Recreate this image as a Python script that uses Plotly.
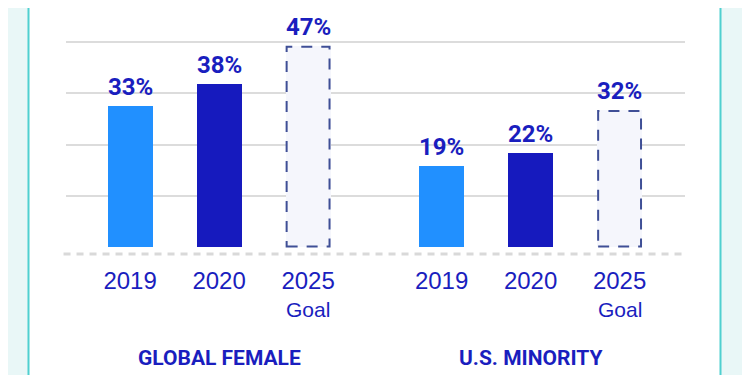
import plotly.graph_objects as go

# ---- data ----
groups = ["GLOBAL FEMALE", "U.S. MINORITY"]
years = ["2019", "2020", "2025"]
global_female = [33, 38, 47]
us_minority = [19, 22, 32]
gridlines = [12, 24, 36, 48]

# positions (layout)
pos_g = [0, 1, 2]
pos_u = [3.5, 4.5, 5.5]
bw = 0.506

C19 = "#2190ff"
C20 = "#161abe"
GOAL_FILL = "#f5f6fc"
GOAL_LINE = "#3f4f96"
TXT = "#1a1ebe"
BOLD = "Roboto, Liberation Sans Narrow, sans-serif"

L, T, PW, PH = 58, 25, 619, 223

fig = go.Figure()

vals = global_female + us_minority
xs = pos_g + pos_u
colors = [C19, C20, GOAL_FILL, C19, C20, GOAL_FILL]

fig.add_trace(go.Bar(x=xs, y=vals, width=bw, marker=dict(color=colors, line=dict(width=0)),
                     hoverinfo="skip", showlegend=False))

# dashed outlines for goal bars
for x, v in [(pos_g[2], global_female[2]), (pos_u[2], us_minority[2])]:
    fig.add_shape(type="rect", xref="x", yref="y", x0=x - bw / 2 + 0.012, x1=x + bw / 2 - 0.012,
                  y0=0.2, y1=v - 0.2, line=dict(color=GOAL_LINE, width=2, dash="11px,9px"),
                  fillcolor="rgba(0,0,0,0)", layer="above")

# value labels
for x, v in zip(xs, vals):
    fig.add_annotation(x=x, y=v, text=f"<b>{v}%</b>", showarrow=False, yanchor="bottom",
                       yshift=3, font=dict(family=BOLD, size=24, color=TXT))

# "Goal" sub labels
for x in [pos_g[2], pos_u[2]]:
    fig.add_annotation(x=x, y=-0.24, xref="x", yref="paper", text="Goal", showarrow=False,
                       yanchor="middle", font=dict(family="Liberation Sans, Arial, sans-serif",
                                                   size=21, color=TXT))

# group titles
for x, g in zip([pos_g[1], pos_u[1]], groups):
    fig.add_annotation(x=x, y=-0.457, xref="x", yref="paper", text=f"<b>{g}</b>",
                       showarrow=False, yanchor="middle",
                       font=dict(family=BOLD, size=21, color=TXT))

# white panel with turquoise borders
fig.add_shape(type="rect", xref="paper", yref="paper", x0=(28.5 - 66) / PW, x1=(720.5 - 66) / PW,
              y0=-2, y1=3, fillcolor="white", line=dict(color="#4fd0d0", width=2), layer="below")

# dashed baseline
fig.add_shape(type="line", xref="paper", yref="y", x0=-0.004, x1=1.004, y0=-1.55, y1=-1.55,
              line=dict(color="#d9d9d9", width=3, dash="7px,6px"), layer="below")

fig.update_layout(
    width=750, height=375,
    margin=dict(l=L, r=750 - L - PW, t=T, b=375 - T - PH),
    paper_bgcolor="#e9f7f7",
    plot_bgcolor="rgba(0,0,0,0)",
    bargap=0,
    xaxis=dict(range=[-0.72, 6.235], tickvals=xs, ticktext=years + years,
               showgrid=False, zeroline=False, showline=False, ticks="", ticklabelstandoff=8,
               tickfont=dict(family="Liberation Sans, Arial, sans-serif", size=24, color=TXT)),
    yaxis=dict(range=[-2, 50], tickvals=gridlines, showticklabels=False, showgrid=True,
               gridcolor="#dcdcdc", gridwidth=2, zeroline=False, showline=False),
)

fig.write_html("out.html")
